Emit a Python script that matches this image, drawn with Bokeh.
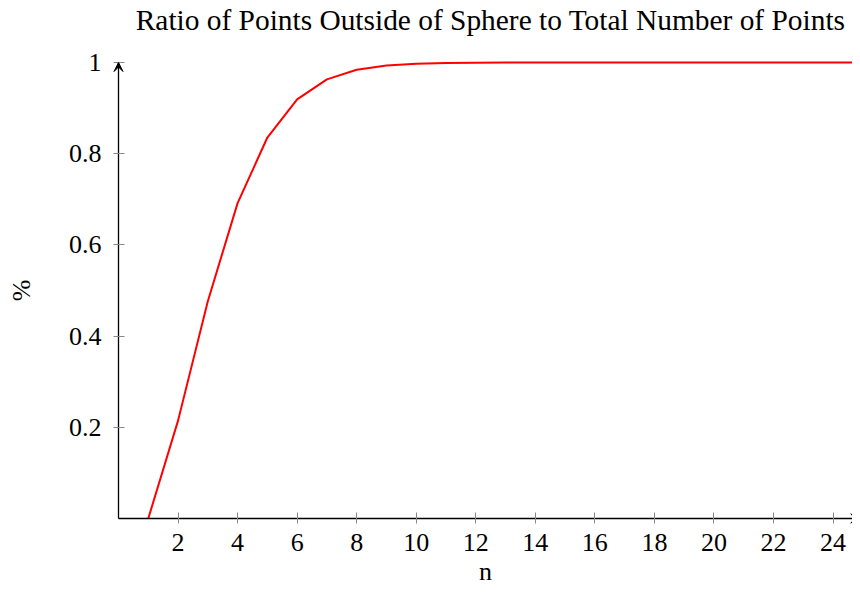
from bokeh.plotting import figure
from bokeh.models import Range1d, FixedTicker, Arrow, VeeHead, Label
from bokeh.embed import file_html
from bokeh.resources import INLINE

n = list(range(1, 26))
ratio = [0.0, 0.2146, 0.4764, 0.6916, 0.8355, 0.9193, 0.9631, 0.9842, 0.9936,
         0.9975, 0.9991, 0.9997, 0.9999, 1.0, 1.0, 1.0, 1.0, 1.0, 1.0, 1.0,
         1.0, 1.0, 1.0, 1.0, 1.0]
x_ticks = list(range(2, 25, 2))
y_ticks = [0.2, 0.4, 0.6, 0.8, 1.0]
x_axis_span = (0, 24.9)
y_axis_span = (0, 1)
title_text = "Ratio of Points Outside of Sphere to Total Number of Points"

FONT = "Liberation Serif"

p = figure(width=852, height=585, output_backend="svg", toolbar_location=None,
           x_range=Range1d(-3.964, 24.655), y_range=Range1d(-0.147, 1.136),
           min_border_left=0, min_border_right=0, min_border_top=0,
           min_border_bottom=0)
p.outline_line_color = None
p.grid.visible = False
p.background_fill_color = "white"

p.line(n, ratio, line_color="red", line_width=2)

for ax in (p.xaxis[0], p.yaxis[0]):
    ax.fixed_location = 0
    ax.axis_line_color = "black"
    ax.axis_line_width = 1.3
    ax.major_tick_line_color = "#888888"
    ax.major_tick_in = 6
    ax.major_tick_out = 5
    ax.minor_tick_line_color = None
    ax.major_label_text_font = FONT
    ax.major_label_text_font_size = "26px"
    ax.major_label_text_color = "black"
    ax.axis_label_text_font = FONT
    ax.axis_label_text_font_size = "26px"
    ax.axis_label_text_font_style = "normal"
    ax.axis_label_text_color = "black"

p.xaxis.bounds = x_axis_span
p.yaxis.bounds = y_axis_span
p.xaxis.ticker = FixedTicker(ticks=x_ticks)
p.yaxis.ticker = FixedTicker(ticks=y_ticks)
p.yaxis.major_label_overrides = {1.0: "1", 1: "1"}
p.xaxis.axis_label = "n"
p.yaxis.axis_label = "%"
p.xaxis.major_label_standoff = 11
p.yaxis.major_label_standoff = 12
p.xaxis.axis_label_standoff = 2
p.yaxis.axis_label_standoff = 30

p.add_layout(Label(x=12.5, y=1.094, text=title_text, text_align="center",
                   text_baseline="middle", text_font=FONT,
                   text_font_size="29.4px", text_color="black"))

p.add_layout(Arrow(end=VeeHead(size=9, fill_color="black", line_color="black"),
                   x_start=0, y_start=0, x_end=x_axis_span[1], y_end=0,
                   line_alpha=0))
p.add_layout(Arrow(end=VeeHead(size=9, fill_color="black", line_color="black"),
                   x_start=0, y_start=0, x_end=0, y_end=y_axis_span[1],
                   line_alpha=0))

open("out.html", "w").write(file_html(p, INLINE))
